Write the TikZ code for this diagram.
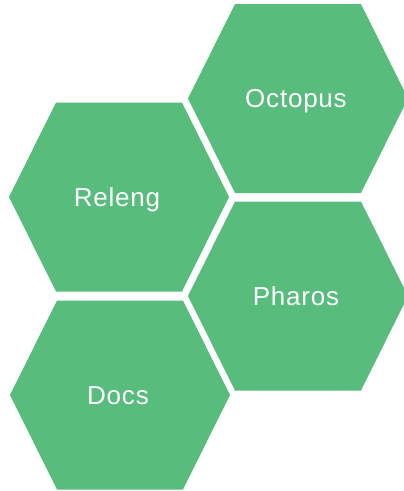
\documentclass[tikz,border=0pt]{standalone}
\usepackage{fontspec}
\setmainfont{Liberation Sans}
\newfontfamily\hexfont[LetterSpace=3]{Liberation Sans}
\definecolor{hexgreen}{RGB}{88,188,125}
\begin{document}
\begin{tikzpicture}[x=1pt,y=-1pt,
  hexlabel/.style={text=white,font=\hexfont\fontsize{26}{30}\selectfont,anchor=base,inner sep=0pt}]
\useasboundingbox (0,0) rectangle (404,491);
\foreach \cx/\cy/\nm/\lbl in {298/98.5/octopus/Octopus,119/197/releng/Releng,298/296/pharos/Pharos,120/395/docs/Docs}{
  \fill[hexgreen,shift={(\cx,\cy)}] (-110,0) -- (-63,-94.5) -- (63,-94.5) -- (110,0) -- (63,94.5) -- (-63,94.5) -- cycle;
  \node[hexlabel] (\nm) at (\cx-2,\cy+9.3) {\lbl};
}
\end{tikzpicture}
\end{document}
